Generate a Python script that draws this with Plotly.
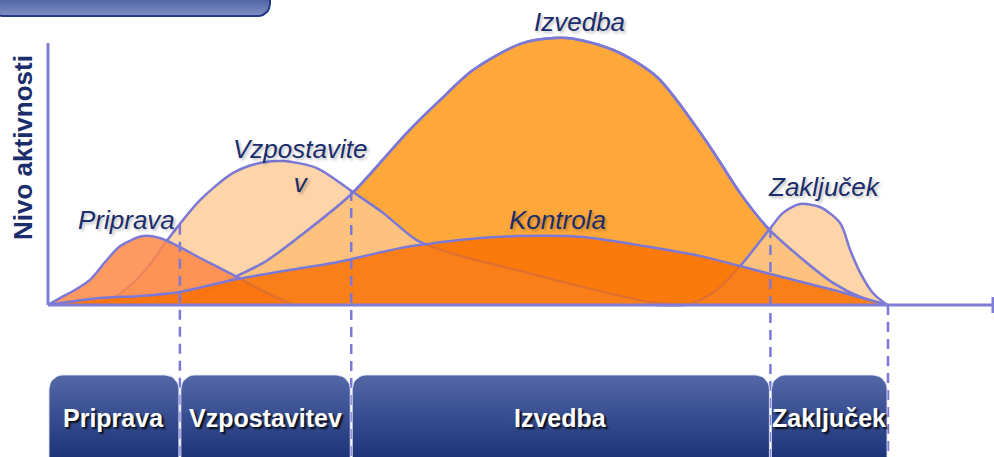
import numpy as np
import plotly.graph_objects as go

# time runs 0..100 over the project, activity level 0..100 (peak of Izvedba)
phases = ["Priprava", "Vzpostavitev", "Izvedba", "Zaključek"]
phase_ends = [15.7, 36.1, 86.0, 100.0]

priprava_x = [0, 1.4, 3.2, 5.0, 6.8, 8.6, 11.3, 13.3, 15.7, 18.1, 22.5, 25.8, 29.2]
priprava_y = [0, 2.6, 5.6, 9.4, 16.1, 22.1, 25.8, 25.1, 21.7, 17.6, 10.5, 4.9, 0]

vzpostavitev_x = [5.0, 7.4, 10.1, 12.1, 14.2, 18.1, 22.0, 25.2, 28.0, 32.0, 36.3,
                  39.9, 43.9, 47.9, 55.8, 63.7, 71.7, 75.8]
vzpostavitev_y = [0, 1.9, 8.2, 15.0, 24.3, 39.3, 49.4, 53.2, 53.9, 51.3, 42.3,
                  34.5, 24.3, 19.5, 13.1, 6.7, 1.1, 0]

izvedba_x = [15.7, 18.7, 22.0, 25.8, 30.0, 36.0, 42.7, 46.7, 50.6, 56.5, 61.8,
             67.3, 72.5, 78.5, 82.4, 85.7, 89.5, 93.5, 96.7, 99.9]
izvedba_y = [0, 4.9, 10.1, 16.1, 25.8, 41.2, 64.4, 76.8, 88.0, 98.1, 100,
             95.5, 85.4, 60.7, 41.9, 28.8, 18.0, 8.2, 3.0, 0]

kontrola_x = [0, 6.2, 11.0, 15.7, 22.0, 28.8, 33.9, 41.9, 45.1, 50.2, 55.8,
              63.7, 71.7, 77.6, 86.0, 93.5, 99.9]
kontrola_y = [0, 2.6, 3.4, 4.9, 9.4, 13.1, 15.7, 21.3, 22.8, 24.7, 25.8,
              25.5, 21.7, 18.4, 11.6, 5.6, 0]

zakljucek_x = [72.3, 76.4, 79.6, 82.7, 86.0, 87.5, 89.5, 91.9, 94.3, 95.5,
               96.7, 98.2, 99.9]
zakljucek_y = [0, 0.4, 5.6, 15.7, 28.8, 34.5, 37.8, 36.7, 30.7, 20.6, 12.0, 4.5, 0]

# pixel <-> axis mapping for the 994x457 canvas
PX_X0, PX_XS = 48, 8.4
PX_Y0, PX_YS = 305, 2.67
W, H = 994, 457


def ux(px):
    return (px - PX_X0) / PX_XS


def uy(py):
    return (PX_Y0 - py) / PX_YS


LINE = "#7b78d6"
NAVY = "#1b2d6b"


def rounded_box(x0, x1, y0, y1, r_px, corners=(True, True, True, True)):
    # corners: top-left, top-right, bottom-right, bottom-left
    rx, ry = r_px / PX_XS, r_px / PX_YS
    t = np.linspace(0, np.pi / 2, 8)
    xs, ys = [], []
    spec = [
        (x0 + rx, y1 - ry, np.pi / 2, corners[0], (x0, y1)),
        (x1 - rx, y1 - ry, 0, corners[1], (x1, y1)),
        (x1 - rx, y0 + ry, -np.pi / 2, corners[2], (x1, y0)),
        (x0 + rx, y0 + ry, -np.pi, corners[3], (x0, y0)),
    ]
    for cx, cy, a0, rounded, sharp in spec:
        if rounded:
            a = a0 + np.pi / 2 - t
            xs += list(cx + rx * np.cos(a))
            ys += list(cy + ry * np.sin(a))
        else:
            xs.append(sharp[0])
            ys.append(sharp[1])
    xs.append(xs[0])
    ys.append(ys[0])
    return xs, ys


fig = go.Figure()


def area(x, y, fill, line=True):
    fig.add_trace(go.Scatter(
        x=x, y=y, mode="lines", fill="tozeroy", fillcolor=fill,
        line=dict(color=LINE if line else "rgba(0,0,0,0)", width=2.5,
                  shape="spline", smoothing=0.8),
        hoverinfo="skip", showlegend=False))


area(izvedba_x, izvedba_y, "rgb(254,168,59)")
area(vzpostavitev_x, vzpostavitev_y, "rgba(253,201,145,0.78)")
area(zakljucek_x, zakljucek_y, "rgba(253,201,145,0.78)")
fig.add_trace(go.Scatter(
    x=izvedba_x, y=izvedba_y, mode="lines",
    line=dict(color=LINE, width=2.5, shape="spline", smoothing=0.8),
    hoverinfo="skip", showlegend=False))
area(priprava_x, priprava_y, "rgba(255,135,70,0.85)")
area(kontrola_x, kontrola_y, "rgba(250,110,0,0.8)")

# dashed phase boundaries, starting where the curves meet
curves = [(priprava_x, priprava_y), (vzpostavitev_x, vzpostavitev_y),
          (izvedba_x, izvedba_y), (zakljucek_x, zakljucek_y)]
for xb in phase_ends:
    top = max(np.interp(xb, cx, cy, left=0, right=0) for cx, cy in curves)
    fig.add_trace(go.Scatter(
        x=[xb, xb], y=[top, uy(H + 5)], mode="lines",
        line=dict(color=LINE, width=2.5, dash="10px,7px"),
        hoverinfo="skip", showlegend=False))

# phase boxes
box_top, box_bot = uy(375), uy(H + 20)
starts = [0] + phase_ends[:-1]
for name, xs0, xs1 in zip(phases, starts, phase_ends):
    bx, by = rounded_box(xs0 + 1 / PX_XS, xs1 - 1 / PX_XS, box_bot, box_top, 14)
    fig.add_trace(go.Scatter(
        x=bx, y=by, mode="lines", fill="toself",
        line=dict(color="rgba(220,225,245,0.9)", width=1),
        fillgradient=dict(type="vertical",
                          colorscale=[[0, "#1d3479"], [1, "#5468a7"]],
                          start=uy(H), stop=box_top),
        hoverinfo="skip", showlegend=False))
    fig.add_annotation(
        x=(xs0 + xs1) / 2, y=uy(418), text=f"<b>{name}</b>", showarrow=False,
        font=dict(family="Liberation Sans, Arial, sans-serif", size=25, color="white",
                  shadow="2px 2px 2px rgba(0,0,0,0.85)"))

# header tab (top-left, cut by the canvas)
hx, hy = rounded_box(ux(-10), ux(270), uy(16), uy(-30), 12)
fig.add_trace(go.Scatter(
    x=hx, y=hy, mode="lines", fill="toself",
    line=dict(color="#23398a", width=2),
    fillgradient=dict(type="vertical",
                      colorscale=[[0, "#8090c2"], [1, "#5266a6"]],
                      start=uy(16), stop=uy(0)),
    hoverinfo="skip", showlegend=False))

label_font = dict(family="Liberation Sans, Arial, sans-serif", size=26, color=NAVY,
                  style="italic", shadow="2px 2px 3px rgba(0,0,0,0.25)")
labels = [
    ("Izvedba", 63.3, uy(22)),
    ("Vzpostavite<br>v", 30.0, uy(166)),
    ("Priprava", 9.4, uy(220)),
    ("Kontrola", 60.7, uy(220)),
    ("Zaključek", 92.4, uy(187)),
]
for text, lx, ly in labels:
    fig.add_annotation(x=lx, y=ly, text=text, showarrow=False, font=label_font)

fig.add_annotation(
    x=ux(23), y=uy(148), text="<b>Nivo aktivnosti</b>", showarrow=False, textangle=-90,
    font=dict(family="Liberation Sans, Arial, sans-serif", size=26, color=NAVY))

# axes
axis_line = dict(color="#7e7ed8", width=3)
fig.add_shape(type="line", x0=0, x1=0, y0=0, y1=uy(43), line=axis_line)
fig.add_shape(type="line", x0=0, x1=ux(993), y0=0, y1=0, line=axis_line)
fig.add_shape(type="line", x0=ux(993), x1=ux(993), y0=uy(297), y1=uy(313), line=axis_line)

fig.update_layout(
    width=W, height=H, margin=dict(l=0, r=0, t=0, b=0),
    paper_bgcolor="white", plot_bgcolor="white",
    xaxis=dict(range=[ux(0), ux(W)], visible=False, fixedrange=True),
    yaxis=dict(range=[uy(H), uy(0)], visible=False, fixedrange=True),
    hovermode=False,
)

# the page's default body margin would shift the chart by 8px
fig.write_html("out.html", config={"displayModeBar": False},
               post_script="document.body.style.margin='0';")
